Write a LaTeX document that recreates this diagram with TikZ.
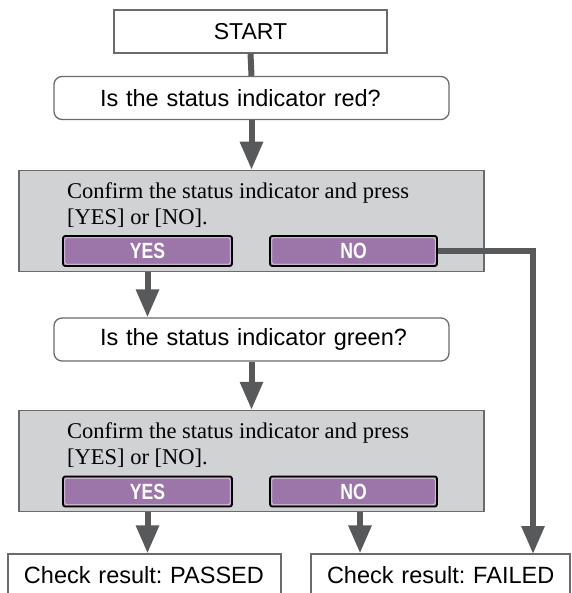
\documentclass[tikz,border=0pt]{standalone}
\usepackage{fontspec}
\setmainfont{Liberation Serif}
\setsansfont{Liberation Sans}
\newfontfamily\keyfont{Liberation Sans}[FakeStretch=0.8]
\usetikzlibrary{arrows.meta}
\frenchspacing

\definecolor{flowgray}{HTML}{58595B}
\definecolor{edgegray}{HTML}{6A6B6D}
\definecolor{panelgray}{HTML}{D1D2D4}
\definecolor{keypurple}{HTML}{9D76A9}

\tikzset{
  box/.style={draw=edgegray, line width=1.3pt, fill=white, minimum height=43pt,
    inner sep=0pt, font=\sffamily\fontsize{23.5}{28}\selectfont},
  indented/.style={align=left, execute at begin node={\hspace*{#1}}},
  question/.style={box, rounded corners=8pt, text width=395pt, indented=46pt},
  result/.style={box, minimum height=42pt, indented=16pt},
  panel/.style={draw=edgegray, line width=1.5pt, fill=panelgray,
    minimum width=465pt, minimum height=101pt, inner sep=0pt},
  note/.style={anchor=north west, align=left, inner sep=0pt,
    font=\rmfamily\fontsize{22.5}{26}\selectfont},
  key/.style={draw=black, line width=1.6pt, fill=keypurple, rounded corners=2pt,
    minimum height=30pt, inner sep=0pt, text=white,
    font=\keyfont\bfseries\fontsize{22}{22}\selectfont,
    path picture={\draw[white!70!keypurple, line width=0.8pt, rounded corners=1.5pt]
      ([shift={(1.8pt,-1.8pt)}]path picture bounding box.north west) rectangle
      ([shift={(-1.8pt,1.8pt)}]path picture bounding box.south east);}},
  flow/.style={draw=flowgray, line width=6pt, -{Triangle[width=22pt,length=28pt]}},
}

\begin{document}
\begin{tikzpicture}[x=1pt, y=-1pt]
\useasboundingbox (0,0) rectangle (571,593);
\clip (0,0) rectangle (571,593);

% first check: red
\node[box, minimum width=273pt, font=\sffamily\fontsize{23}{28}\selectfont] (start) at (250.5,31.5) {START};
\node[question] (red) at (251.5,98) {Is the status indicator red?};
\node[panel] (grey1) at (251.5,221) {};
\node[note] (ask1) at (67,182.5) {Confirm the status indicator and press\\{}[YES] or [NO].};
\node[key, minimum width=169pt] (yes1) at (147.5,251) {YES};
\node[key, minimum width=167pt] (no1) at (353.5,251) {NO};

% second check: green
\node[question] (green) at (251.5,339.5) {Is the status indicator green?};
\node[panel] (grey2) at (251.5,461) {};
\node[note] (ask2) at (67,422.5) {Confirm the status indicator and press\\{}[YES] or [NO].};
\node[key, minimum width=169pt] (yes2) at (147.5,491.5) {YES};
\node[key, minimum width=167pt] (no2) at (353.5,491.5) {NO};

% results
\node[result, text width=273pt] (passed) at (144.5,575) {Check result: PASSED};
\node[result, text width=259pt] (failed) at (440.5,575) {Check result: FAILED};

\coordinate (failin) at (533,554);
\path (no2.south) ++(6.5,0) coordinate (nodrop);

% connectors
\draw[flowgray, line width=6pt] (start.south) -- (red.north);
\draw[flow] (red.south) -- (grey1.north);
\draw[flow] (yes1.south |- grey1.south) -- (yes1.south |- green.north);
\draw[flow] (no1.east) -| (failin);
\draw[flow] (green.south) -- (green.south |- grey2.north);
\draw[flow] (yes2.south |- grey2.south) -- (yes2.south |- passed.north);
\draw[flow] (nodrop |- grey2.south) -- (nodrop |- failed.north);
\end{tikzpicture}
\end{document}
